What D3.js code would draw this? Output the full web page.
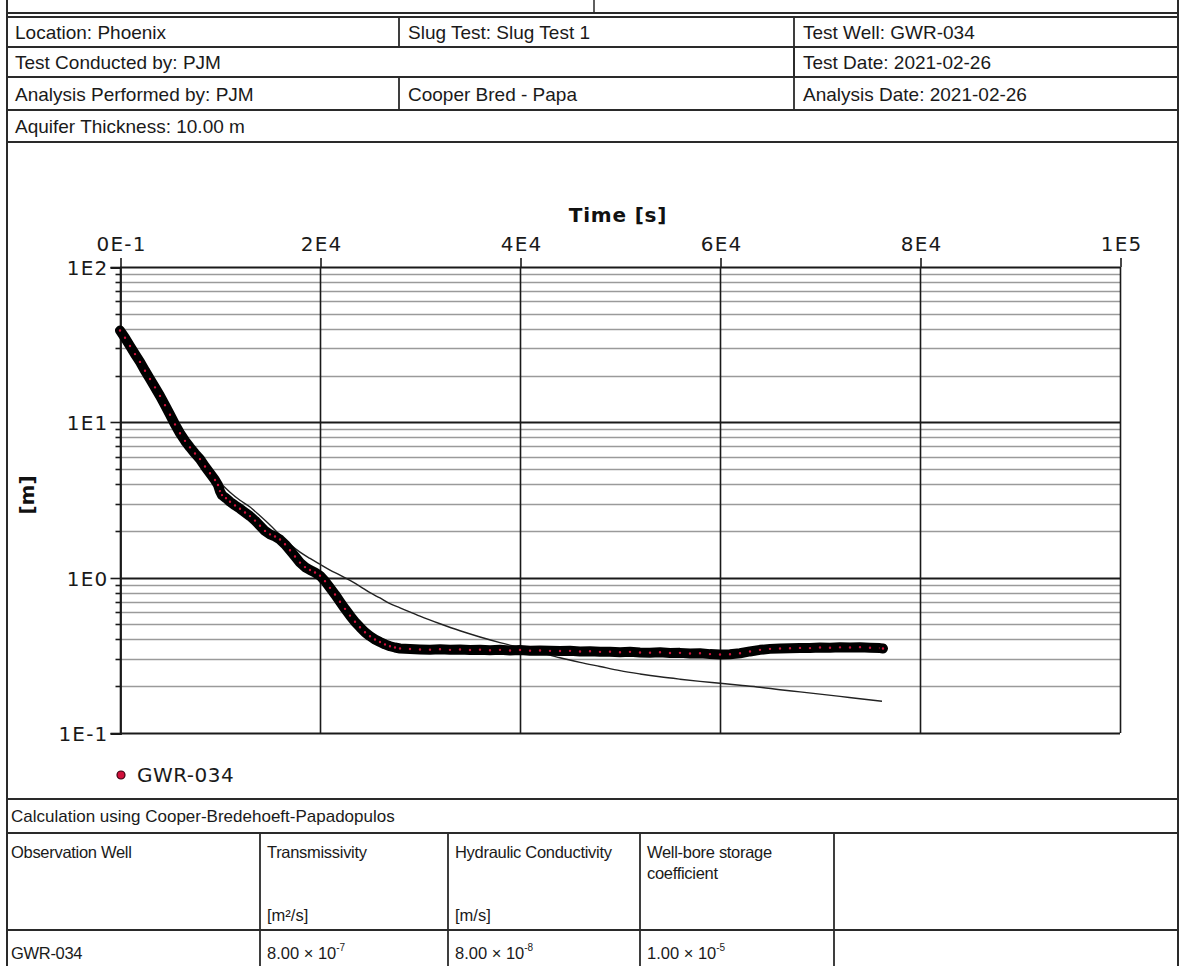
<!DOCTYPE html>
<html>
<head>
<meta charset="utf-8">
<script src="https://cdn.jsdelivr.net/npm/d3@7/dist/d3.min.js"></script>
<style>
  html, body { margin: 0; padding: 0; background: #fff; }
  svg { display: block; }
</style>
</head>
<body>
<div id="chart"></div>
<script>
// ---------------- DATA ----------------
const xTickValues = [0, 20000, 40000, 60000, 80000, 100000];
const xTickLabels = ["0E-1", "2E4", "4E4", "6E4", "8E4", "1E5"];
const yTickValues = [0.1, 1, 10, 100];
const yTickLabels = ["1E-1", "1E0", "1E1", "1E2"];

const seriesName = "GWR-034";

// observed drawdown (time [s], drawdown [m])
const obsTime = [0, 500, 1000, 1500, 2000, 2500, 3000, 3500, 4000, 4500, 5000, 5500, 6000, 6500, 7000, 7500,
  8000, 8500, 9000, 9500, 9800, 10000, 10200, 10600, 11000, 11500, 12000, 12500, 13000, 13500, 14000, 14500,
  15000, 15500, 16000, 16500, 17000, 17500, 18000, 18500, 19000, 19500, 20000, 20500, 21000, 21500, 22000,
  22500, 23000, 23500, 24000, 24500, 25000, 25500, 26000, 26500, 27000, 27500, 28000, 29000, 30000, 31000,
  32000, 33000, 34000, 35000, 36000, 37000, 38000, 39000, 40000, 41000, 42000, 43000, 44000, 45000, 46000,
  47000, 48000, 49000, 50000, 51000, 52000, 53000, 54000, 55000, 56000, 57000, 58000, 59000, 60000, 61000,
  62000, 63000, 64000, 65000, 66000, 67000, 68000, 69000, 70000, 71000, 72000, 73000, 74000, 75000, 76000, 76300];
const obsDrawdown = [39, 35, 31, 27.5, 24.5, 21.5, 19, 16.8, 14.8, 12.9, 11.2, 9.7, 8.5, 7.6, 6.9, 6.3,
  5.8, 5.2, 4.7, 4.25, 3.95, 3.6, 3.4, 3.25, 3.08, 2.92, 2.78, 2.63, 2.49, 2.33, 2.16, 2.0,
  1.9, 1.84, 1.76, 1.64, 1.5, 1.37, 1.25, 1.17, 1.12, 1.08, 1.03, 0.95, 0.86, 0.78, 0.70,
  0.63, 0.57, 0.52, 0.48, 0.445, 0.42, 0.40, 0.385, 0.372, 0.362, 0.355, 0.35, 0.347, 0.345, 0.344,
  0.346, 0.343, 0.345, 0.342, 0.344, 0.341, 0.343, 0.34, 0.342, 0.339, 0.34, 0.338, 0.337, 0.338, 0.335,
  0.336, 0.333, 0.334, 0.331, 0.333, 0.33, 0.329, 0.331, 0.327, 0.328, 0.325, 0.326, 0.322, 0.32, 0.321,
  0.326, 0.335, 0.343, 0.348, 0.35, 0.351, 0.353, 0.352, 0.355, 0.354, 0.356, 0.355, 0.357, 0.354, 0.352, 0.35];

// fitted type curve
const modelTime = [0, 1000, 2000, 3000, 4000, 5000, 6000, 7000, 8000, 9000, 10000, 11000, 12000, 13000, 14000,
  15000, 16000, 17000, 18000, 19000, 20000, 21000, 22000, 23000, 24000, 25000, 26000, 27000, 28000, 30000,
  32000, 34000, 36000, 38000, 40000, 42000, 44000, 46000, 48000, 50000, 52000, 54000, 56000, 58000, 60000,
  62000, 64000, 66000, 68000, 70000, 72000, 74000, 76200];
const modelDrawdown = [39, 31, 24.5, 19, 14.8, 11.3, 8.6, 6.9, 5.8, 4.8, 4.1, 3.55, 3.15, 2.85, 2.5,
  2.18, 1.88, 1.64, 1.46, 1.33, 1.22, 1.12, 1.04, 0.96, 0.88, 0.8, 0.74, 0.68, 0.64, 0.565,
  0.505, 0.455, 0.415, 0.382, 0.355, 0.33, 0.305, 0.285, 0.268, 0.252, 0.24, 0.23, 0.222, 0.215, 0.209,
  0.203, 0.197, 0.19, 0.184, 0.178, 0.172, 0.166, 0.16];

// report table texts
const headerRows = [
  ["Location: Phoenix", "Slug Test: Slug Test 1", "Test Well: GWR-034"],
  ["Test Conducted by: PJM", "", "Test Date: 2021-02-26"],
  ["Analysis Performed by: PJM", "Cooper Bred - Papa", "Analysis Date: 2021-02-26"],
  ["Aquifer Thickness: 10.00 m"]
];
const calcTitle = "Calculation using Cooper-Bredehoeft-Papadopulos";
const resultHeaders = [["Observation Well"], ["Transmissivity"], ["Hydraulic Conductivity"], ["Well-bore storage", "coefficient"], [""]];
const resultUnits = ["", "[m²/s]", "[m/s]", "", ""];
const resultMantissa = ["", "8.00 × 10", "8.00 × 10", "1.00 × 10", ""];
const resultExponent = ["", "-7", "-8", "-5", ""];
const resultWell = "GWR-034";

// ---------------- DRAW ----------------
const W = 1183, H = 966;
const svg = d3.select("#chart").append("svg").attr("width", W).attr("height", H);
const lineCol = "#2a2a2a";
const tFont = "'Liberation Sans', Arial, sans-serif";
const cFont = "'DejaVu Sans', Verdana, sans-serif";

const L = 7, R = 1178;
// page border
svg.append("line").attr("x1", L).attr("x2", L).attr("y1", 0).attr("y2", H).attr("stroke", lineCol).attr("stroke-width", 2);
svg.append("line").attr("x1", R).attr("x2", R).attr("y1", 0).attr("y2", H).attr("stroke", lineCol).attr("stroke-width", 2);
svg.append("line").attr("x1", L).attr("x2", R).attr("y1", 13).attr("y2", 13).attr("stroke", lineCol).attr("stroke-width", 2);
svg.append("line").attr("x1", 594).attr("x2", 594).attr("y1", 0).attr("y2", 13).attr("stroke", lineCol).attr("stroke-width", 1.5);

// header table
const rowY = [17, 47, 77, 110, 142];
const colX = [L, 399, 794, R];
const headerSpans = [[0, 1, 2], [0, 2], [0, 1, 2], [0]];
rowY.forEach(y => svg.append("line").attr("x1", L).attr("x2", R).attr("y1", y).attr("y2", y)
  .attr("stroke", lineCol).attr("stroke-width", 1.8));
headerRows.forEach((row, i) => {
  const starts = headerSpans[i];
  row.forEach((txt, j) => {
    const c = starts[j] !== undefined ? starts[j] : j;
    if (c > 0) {
      svg.append("line").attr("x1", colX[c]).attr("x2", colX[c]).attr("y1", rowY[i]).attr("y2", rowY[i + 1])
        .attr("stroke", lineCol).attr("stroke-width", 1.8);
    }
    if (txt) {
      svg.append("text").attr("x", colX[c] + (c === 0 ? 8 : 9)).attr("y", (rowY[i] + rowY[i + 1]) / 2 + 7)
        .attr("font-family", tFont).attr("font-size", 19).attr("fill", "#1a1a1a").text(txt);
    }
  });
});

// ---------------- CHART ----------------
const px0 = 120, px1 = 1120, py0 = 267, py1 = 733;
const x = d3.scaleLinear().domain([0, 100000]).range([px0, px1]);
const y = d3.scaleLog().domain([0.1, 100]).range([py1, py0]);
const isMajor = v => Math.abs(Math.log10(v) - Math.round(Math.log10(v))) < 1e-9;
const yAll = y.ticks();

const g = svg.append("g");
// horizontal gridlines
g.selectAll("line.hg").data(yAll).join("line")
  .attr("x1", px0).attr("x2", px1)
  .attr("y1", d => Math.round(y(d)) + 0.5).attr("y2", d => Math.round(y(d)) + 0.5)
  .attr("stroke", d => isMajor(d) ? "#1a1a1a" : "#9a9a9a")
  .attr("stroke-width", d => isMajor(d) ? 1.8 : 1.6);
// vertical gridlines
g.selectAll("line.vg").data(xTickValues).join("line")
  .attr("x1", d => Math.round(x(d)) + 0.5).attr("x2", d => Math.round(x(d)) + 0.5)
  .attr("y1", py0).attr("y2", py1)
  .attr("stroke", "#1a1a1a").attr("stroke-width", 1.6);

// top axis
const xAxis = d3.axisTop(x).tickValues(xTickValues).tickFormat((d, i) => xTickLabels[i]).tickSize(9).tickPadding(7);
const gx = svg.append("g").attr("transform", `translate(0.5,${py0})`).call(xAxis);
gx.select(".domain").remove();
gx.selectAll(".tick line").attr("stroke", "#1a1a1a").attr("stroke-width", 1.6);
gx.selectAll(".tick text").attr("font-family", cFont).attr("font-size", 20).attr("fill", "#1a1a1a")
  .attr("letter-spacing", 1.2).attr("dx", 0.6);

// left axis
const yAxis = d3.axisLeft(y).tickValues(yAll)
  .tickFormat(d => { const k = yTickValues.findIndex(v => Math.abs(v - d) < 1e-9); return k >= 0 ? yTickLabels[k] : ""; })
  .tickSize(10).tickPadding(2);
const gy = svg.append("g").attr("transform", `translate(${px0 + 0.5},0.5)`).call(yAxis);
gy.select(".domain").attr("stroke", "#1a1a1a").attr("stroke-width", 1.8);
gy.selectAll(".tick line").attr("stroke", "#1a1a1a").attr("stroke-width", 1.6).attr("x2", d => isMajor(d) ? -10 : -5);
gy.selectAll(".tick text").attr("font-family", cFont).attr("font-size", 20).attr("fill", "#1a1a1a")
  .attr("letter-spacing", 1.2).attr("dy", "0.36em");
gy.selectAll(".tick").attr("transform", d => `translate(0,${Math.round(y(d))})`);

// axis titles
svg.append("text").attr("x", 618).attr("y", 222).attr("text-anchor", "middle")
  .attr("font-family", cFont).attr("font-size", 20).attr("font-weight", "bold").attr("letter-spacing", 0.8)
  .attr("fill", "#111").text("Time [s]");
svg.append("text").attr("transform", "translate(34,495) rotate(-90)").attr("text-anchor", "middle")
  .attr("font-family", cFont).attr("font-size", 20).attr("font-weight", "bold")
  .attr("fill", "#111").text("[m]");

// model curve
const modelData = modelTime.map((t, i) => [t, modelDrawdown[i]]);
const obsData = obsTime.map((t, i) => [t, obsDrawdown[i]]);
const lineGen = d3.line().x(d => x(d[0])).y(d => y(d[1])).curve(d3.curveMonotoneX);
svg.append("path").datum(modelData).attr("d", lineGen).attr("fill", "none")
  .attr("stroke", "#222").attr("stroke-width", 1.4);

// observed data: dense marker band
svg.append("path").datum(obsData).attr("d", d3.line().x(d => x(d[0])).y(d => y(d[1])))
  .attr("fill", "none").attr("stroke", "#000").attr("stroke-width", 10)
  .attr("stroke-linejoin", "round").attr("stroke-linecap", "round");
svg.append("g").selectAll("circle").data(obsData).join("circle")
  .attr("cx", d => x(d[0])).attr("cy", d => y(d[1])).attr("r", 2.4)
  .attr("fill", "#d0103a").attr("stroke", "#000").attr("stroke-width", 2.4);

// legend
svg.append("circle").attr("cx", 121).attr("cy", 775).attr("r", 4).attr("fill", "#d0103a")
  .attr("stroke", "#3a0010").attr("stroke-width", 1.2);
svg.append("text").attr("x", 137).attr("y", 782).attr("font-family", cFont).attr("font-size", 20)
  .attr("letter-spacing", 0.5).attr("fill", "#1a1a1a").text(seriesName);

// ---------------- RESULTS TABLE ----------------
const bRow = [799, 833, 930, H + 2];
const bCol = [L, 260, 448, 640, 834, R];
bRow.slice(0, 3).forEach(yy => svg.append("line").attr("x1", L).attr("x2", R).attr("y1", yy).attr("y2", yy)
  .attr("stroke", lineCol).attr("stroke-width", 1.8));
bCol.slice(1, 5).forEach(xx => svg.append("line").attr("x1", xx).attr("x2", xx).attr("y1", bRow[1]).attr("y2", H)
  .attr("stroke", lineCol).attr("stroke-width", 1.8));
svg.append("text").attr("x", 11).attr("y", 822).attr("font-family", tFont).attr("font-size", 17)
  .attr("fill", "#1a1a1a").text(calcTitle);
resultHeaders.forEach((lines, i) => {
  lines.forEach((ln, k) => {
    if (!ln) return;
    svg.append("text").attr("x", bCol[i] + (i === 0 ? 4 : 7)).attr("y", 858 + k * 21)
      .attr("font-family", tFont).attr("font-size", 16.5).attr("letter-spacing", -0.3)
      .attr("fill", "#1a1a1a").text(ln);
  });
  if (resultUnits[i]) {
    svg.append("text").attr("x", bCol[i] + 7).attr("y", 921)
      .attr("font-family", tFont).attr("font-size", 16.5).attr("fill", "#1a1a1a").text(resultUnits[i]);
  }
  if (resultMantissa[i]) {
    const t = svg.append("text").attr("x", bCol[i] + 7).attr("y", 959)
      .attr("font-family", tFont).attr("font-size", 16.5).attr("fill", "#1a1a1a");
    t.append("tspan").text(resultMantissa[i]);
    t.append("tspan").attr("dy", -8).attr("font-size", 10).text(resultExponent[i]);
  }
});
svg.append("text").attr("x", L + 4).attr("y", 959).attr("font-family", tFont).attr("font-size", 16.5)
  .attr("letter-spacing", -0.3).attr("fill", "#1a1a1a").text(resultWell);
</script>
</body>
</html>
